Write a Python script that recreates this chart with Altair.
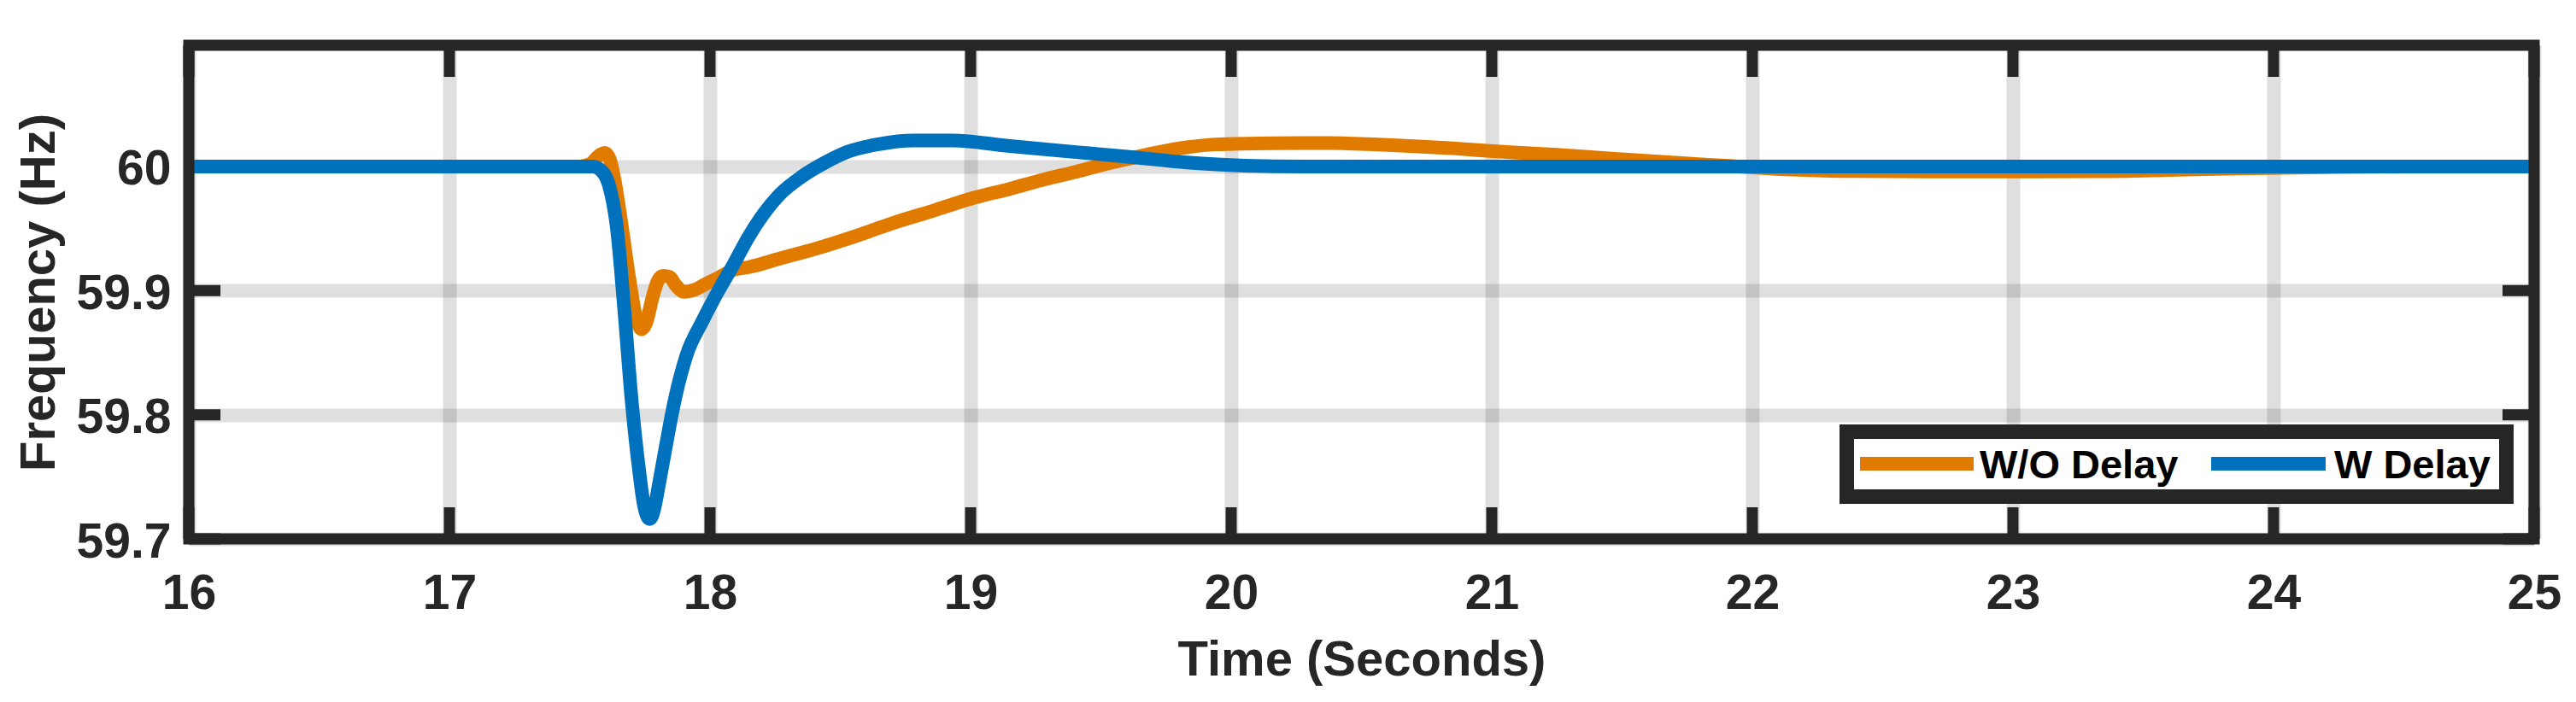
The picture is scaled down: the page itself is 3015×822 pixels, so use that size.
import altair as alt
import pandas as pd

# ---------------- data ----------------
series_names = ["W/O Delay", "W Delay"]
series_colors = ["#E07B00", "#0072BD"]

t_wo = [16.0, 17.0, 17.5, 17.54, 17.575, 17.596, 17.615, 17.633, 17.66, 17.69,
        17.718, 17.737, 17.755, 17.78, 17.80, 17.82, 17.845, 17.87, 17.9, 17.944,
        17.98, 18.02, 18.094, 18.15, 18.27, 18.41, 18.56, 18.71, 18.85, 19.0,
        19.15, 19.29, 19.40, 19.5, 19.6, 19.72, 19.83, 19.94, 20.16, 20.38,
        20.6, 20.85, 21.03, 21.25, 21.47, 21.69, 21.91, 22.13, 22.4, 22.8,
        23.3, 23.6, 23.87, 24.2, 24.5, 25.0]
f_wo = [60.0, 60.0, 60.0, 60.002, 60.009, 60.011, 60.006, 59.99, 59.954, 59.91,
        59.877, 59.869, 59.874, 59.895, 59.908, 59.912, 59.911, 59.904, 59.899, 59.901,
        59.905, 59.909, 59.917, 59.919, 59.926, 59.934, 59.944, 59.955, 59.964, 59.974,
        59.982, 59.990, 59.9955, 60.001, 60.006, 60.0115, 60.0155, 60.0178, 60.0188, 60.019,
        60.0174, 60.0147, 60.0120, 60.0094, 60.0062, 60.0032, 60.0005, 59.9978, 59.9963, 59.9960,
        59.9962, 59.9972, 59.9985, 59.9995, 60.0, 60.0]

t_w = [16.0, 17.0, 17.55, 17.59, 17.615, 17.643, 17.671, 17.70, 17.727, 17.745,
       17.757, 17.768, 17.779, 17.79, 17.805, 17.83, 17.868, 17.91, 17.97, 18.03,
       18.09, 18.147, 18.206, 18.265, 18.353, 18.44, 18.53, 18.647, 18.78, 18.93,
       19.15, 19.395, 19.61, 19.83, 20.05, 20.3, 21.0, 25.0]
f_w = [60.0, 60.0, 60.0, 59.995, 59.983, 59.95, 59.885, 59.81, 59.757, 59.729,
       59.719, 59.716, 59.719, 59.728, 59.745, 59.774, 59.815, 59.848, 59.875, 59.899,
       59.921, 59.943, 59.962, 59.977, 59.992, 60.003, 60.012, 60.018, 60.021, 60.021,
       60.0165, 60.0118, 60.0078, 60.0032, 60.0007, 60.0, 60.0, 60.0]

x_ticks = [16, 17, 18, 19, 20, 21, 22, 23, 24, 25]
y_ticks = [59.7, 59.8, 59.9, 60.0]
x_domain = [16, 25]
y_domain = [59.7, 60.0977]

# ---------------- layout / style ----------------
W, H = 2745, 578
FONT = "Liberation Sans"
DARK = "#262626"
LW = 16
TICK_LEN = 37
TICK_W = 13
FRAME_W = 13

df = pd.concat([
    pd.DataFrame({"time": t_wo, "freq": f_wo, "series": series_names[0]}),
    pd.DataFrame({"time": t_w, "freq": f_w, "series": series_names[1]}),
], ignore_index=True)

x_scale = alt.Scale(domain=x_domain, nice=False, zero=False)
y_scale = alt.Scale(domain=y_domain, nice=False, zero=False)
color_scale = alt.Scale(domain=series_names, range=series_colors)

x_axis = alt.Axis(
    values=x_ticks, format="d", grid=True, gridColor=DARK, gridOpacity=0.15, gridWidth=16,
    domain=False, ticks=False, tickSize=0, labelFlush=False, labelOverlap=False,
    labelFont=FONT, labelFontSize=57, labelFontWeight="bold", labelColor=DARK,
    labelBaseline="alphabetic", labelPadding=81,
    title="Time (Seconds)", titleFont=FONT, titleFontSize=58, titleFontWeight="bold",
    titleColor=DARK, titleX=W / 2, titleY=159, titleBaseline="alphabetic", titleAlign="center",
)
y_axis = alt.Axis(
    values=y_ticks, format="~g", grid=True, gridColor=DARK, gridOpacity=0.15, gridWidth=16,
    domain=False, ticks=False, tickSize=0, labelFlush=False, labelOverlap=False,
    labelFont=FONT, labelFontSize=57, labelFontWeight="bold", labelColor=DARK,
    labelBaseline="middle", labelAlign="right", labelPadding=21, labelOffset=4,
    title="Frequency (Hz)", titleFont=FONT, titleFontSize=58, titleFontWeight="bold",
    titleColor=DARK, titleX=-158, titleY=H / 2, titleAngle=-90, titleBaseline="alphabetic",
    titleAlign="center",
)

layers = []

# inward ticks on all four sides (MATLAB box style), drawn below the data lines
xt = pd.DataFrame({"time": x_ticks})
yt = pd.DataFrame({"freq": y_ticks})
tick_style = dict(color=DARK, strokeWidth=TICK_W)
x_enc = alt.X("time:Q", scale=x_scale, axis=x_axis)
y_enc = alt.Y("freq:Q", scale=y_scale, axis=y_axis)
layers.append(alt.Chart(xt).mark_rule(**tick_style).encode(
    x=x_enc, y=alt.value(H), y2=alt.value(H - TICK_LEN)))
layers.append(alt.Chart(xt).mark_rule(**tick_style).encode(
    x=x_enc, y=alt.value(0), y2=alt.value(TICK_LEN)))
layers.append(alt.Chart(yt).mark_rule(**tick_style).encode(
    y=y_enc, x=alt.value(0), x2=alt.value(TICK_LEN)))
layers.append(alt.Chart(yt).mark_rule(**tick_style).encode(
    y=y_enc, x=alt.value(W - TICK_LEN), x2=alt.value(W)))

# data lines (blue drawn over orange)
for name in series_names:
    layers.append(alt.Chart(df).transform_filter(alt.datum.series == name).mark_line(
        strokeWidth=LW, interpolate="monotone", strokeCap="butt", strokeJoin="round"
    ).encode(
        x=alt.X("time:Q", scale=x_scale, axis=x_axis),
        y=alt.Y("freq:Q", scale=y_scale, axis=y_axis),
        color=alt.Color("series:N", scale=color_scale, legend=None),
    ))

# frame box
one = pd.DataFrame({"a": [0]})
layers.append(alt.Chart(one).mark_rect(
    fill="white", fillOpacity=0, stroke=DARK, strokeWidth=FRAME_W
).encode(x=alt.value(0), x2=alt.value(W), y=alt.value(0), y2=alt.value(H)))

# legend (drawn manually, MATLAB style box)
LB = dict(x0=1940.5, x1=2712.5, y0=452.5, y1=528.5)
layers.append(alt.Chart(one).mark_rect(
    fill="white", stroke=DARK, strokeWidth=17
).encode(x=alt.value(LB["x0"]), x2=alt.value(LB["x1"]),
         y=alt.value(LB["y0"]), y2=alt.value(LB["y1"])))
legend_pos = [(1956, 2089, 2096), (2367, 2501, 2511)]
for name, (sx0, sx1, tx) in zip(series_names, legend_pos):
    ent = pd.DataFrame({"series": [name]})
    layers.append(alt.Chart(ent).mark_rule(strokeWidth=LW).encode(
        x=alt.value(sx0), x2=alt.value(sx1), y=alt.value(490),
        color=alt.Color("series:N", scale=color_scale, legend=None)))
    layers.append(alt.Chart(ent).mark_text(
        align="left", baseline="alphabetic", font=FONT, fontSize=47,
        fontWeight="bold", color="#000000"
    ).encode(x=alt.value(tx), y=alt.value(507), text="series:N"))

chart = alt.layer(*layers).properties(
    width=W, height=H,
    autosize=alt.AutoSizeParams(type="none"),
    padding={"left": 213, "top": 45, "right": 41, "bottom": 183},
    background="white",
).configure_view(stroke=None)

chart.save("out.html", embed_options={"renderer": "svg", "actions": False})
